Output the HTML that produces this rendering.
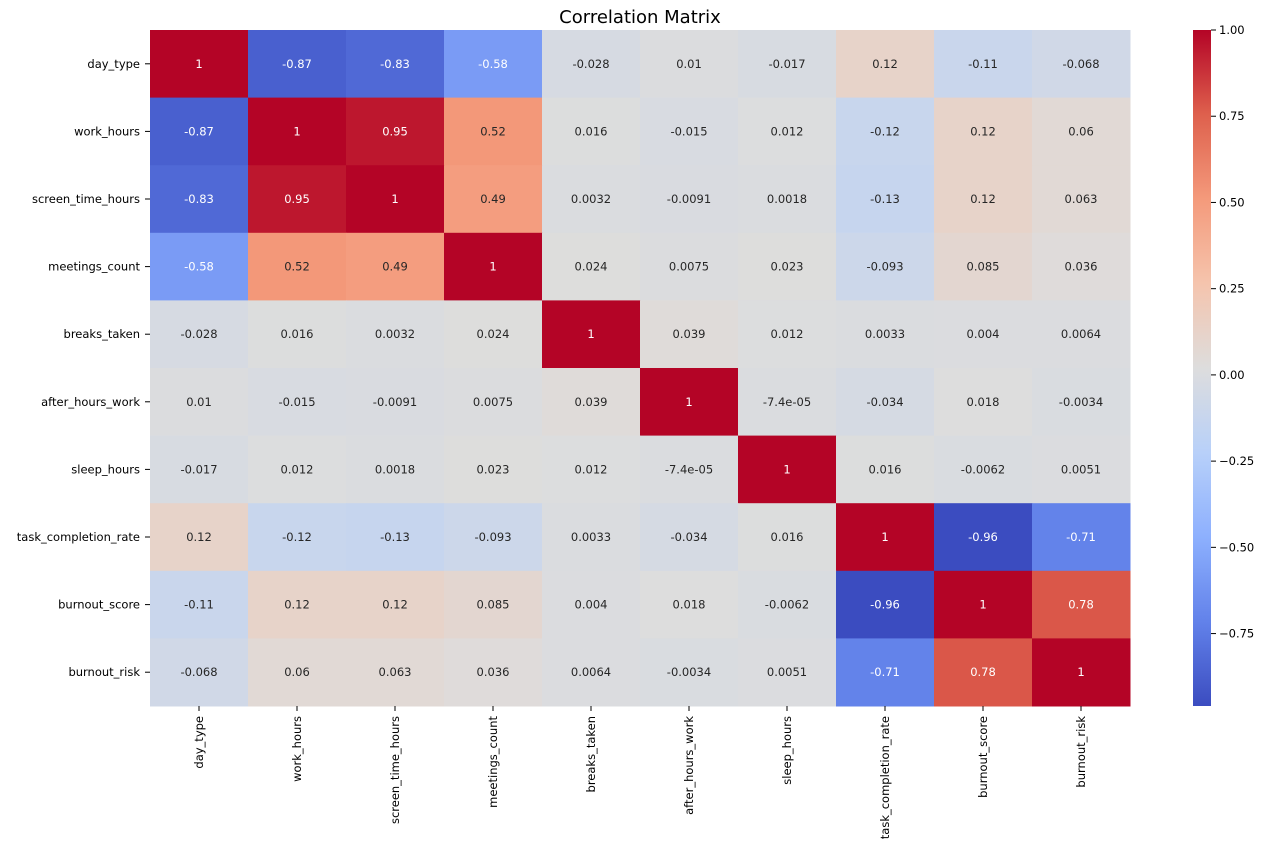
<!DOCTYPE html>
<html><head><meta charset="utf-8">
<style>
body{margin:0;background:#fff;}
svg{display:block;font-family:"DejaVu Sans","Liberation Sans",sans-serif;}
</style></head>
<body>
<svg id="chart" width="1280" height="855">
<text x="640" y="23" text-anchor="middle" font-size="18" fill="#000">Correlation Matrix</text>
<defs><linearGradient id="cbgrad" x1="0" y1="1" x2="0" y2="0"></linearGradient></defs>
</svg>
<script>
const categories = ["day_type","work_hours","screen_time_hours","meetings_count","breaks_taken","after_hours_work","sleep_hours","task_completion_rate","burnout_score","burnout_risk"];
const values = [
[1,-0.87,-0.83,-0.58,-0.028,0.01,-0.017,0.12,-0.11,-0.068],
[-0.87,1,0.95,0.52,0.016,-0.015,0.012,-0.12,0.12,0.06],
[-0.83,0.95,1,0.49,0.0032,-0.0091,0.0018,-0.13,0.12,0.063],
[-0.58,0.52,0.49,1,0.024,0.0075,0.023,-0.093,0.085,0.036],
[-0.028,0.016,0.0032,0.024,1,0.039,0.012,0.0033,0.004,0.0064],
[0.01,-0.015,-0.0091,0.0075,0.039,1,-0.000074,-0.034,0.018,-0.0034],
[-0.017,0.012,0.0018,0.023,0.012,-0.000074,1,0.016,-0.0062,0.0051],
[0.12,-0.12,-0.13,-0.093,0.0033,-0.034,0.016,1,-0.96,-0.71],
[-0.11,0.12,0.12,0.085,0.004,0.018,-0.0062,-0.96,1,0.78],
[-0.068,0.06,0.063,0.036,0.0064,-0.0034,0.0051,-0.71,0.78,1]];
const cbTicks = [1.00,0.75,0.50,0.25,0.00,-0.25,-0.50,-0.75];
const vmin = -0.96, vmax = 1;

const NS="http://www.w3.org/2000/svg";
const svg=document.getElementById('chart');
const X0=150,X1=1130,Y0=30,Y1=706;
const n=categories.length, cw=(X1-X0)/n, ch=(Y1-Y0)/n;
const FS=11.5;
const stops=[[59,76,192],[98,130,234],[141,176,254],[184,208,249],[221,221,221],[245,196,173],[244,154,123],[222,96,77],[180,4,38]];
function cmap(v){
  let t=(v-vmin)/(vmax-vmin); t=Math.max(0,Math.min(1,t));
  const p=t*8, i=Math.min(7,Math.floor(p)), f=p-i;
  return stops[i].map((c,k)=>Math.round(c+(stops[i+1][k]-c)*f));
}
function fmt(v){
  if(v===1) return "1";
  if(Math.abs(v)<1e-4 && v!==0){ return v.toExponential(1).replace(/e([+-])(\d)$/,"e$10$2"); }
  return String(Number(v.toPrecision(2)));
}
function el(tag,attrs,parent){const e=document.createElementNS(NS,tag);for(const k in attrs)e.setAttribute(k,attrs[k]);(parent||svg).appendChild(e);return e;}
const sx=j=>X0+j*cw, sy=i=>Y0+i*ch;

for(let i=0;i<n;i++){for(let j=0;j<n;j++){
  const v=values[i][j], c=cmap(v);
  const r=el('rect',{x:sx(j),y:sy(i),width:cw+0.5,height:ch+0.5,fill:`rgb(${c})`});
  
  
  const lum=c.map(x=>{x/=255;return x<=0.03928?x/12.92:Math.pow((x+0.055)/1.055,2.4)});
  const L=0.2126*lum[0]+0.7152*lum[1]+0.0722*lum[2];
  const t=el('text',{x:sx(j)+cw/2,y:sy(i)+ch/2+4,'text-anchor':'middle','font-size':FS,fill:L>0.408?'#262626':'#fff'});
  t.textContent=fmt(v);
  
  
}}
for(let i=0;i<n;i++){
  el('line',{x1:X0-5,x2:X0,y1:sy(i)+ch/2,y2:sy(i)+ch/2,stroke:'#000'});
  const t=el('text',{x:X0-10,y:sy(i)+ch/2+4,'text-anchor':'end','font-size':FS});
  t.textContent=categories[i];
  
  
  const cx=sx(i)+cw/2;
  el('line',{x1:cx,x2:cx,y1:Y1,y2:Y1+5,stroke:'#000'});
  const u=el('text',{x:0,y:0,'text-anchor':'end','font-size':FS,transform:`translate(${cx+4},${Y1+10}) rotate(-90)`});
  u.textContent=categories[i];
  
  
}
// colorbar
const CX0=1193,CX1=1211;
const g=document.getElementById('cbgrad');
for(let k=0;k<=40;k++){const v=vmin+(vmax-vmin)*k/40;el('stop',{offset:k/40,'stop-color':`rgb(${cmap(v)})`},g);}
const cb=el('rect',{x:CX0,y:Y0,width:CX1-CX0,height:Y1-Y0,fill:'url(#cbgrad)'});


const cby=v=>Y1-(v-vmin)/(vmax-vmin)*(Y1-Y0);
cbTicks.forEach(v=>{
  const y=cby(v);
  el('line',{x1:CX1,x2:CX1+5,y1:y,y2:y,stroke:'#000'});
  const t=el('text',{x:CX1+8,y:y+4,'font-size':FS});
  t.textContent=(v<0?'\u2212':'')+Math.abs(v).toFixed(2);
  
  
});
</script>
</body></html>
